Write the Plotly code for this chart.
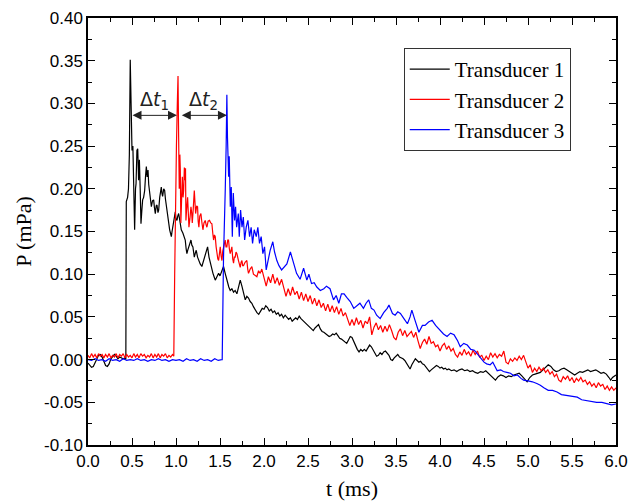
import plotly.graph_objects as go

# ---------------- data (t in ms, P in mPa) ----------------
black_data = [
    (0.00, -0.004), (0.02, -0.006), (0.04, -0.009), (0.06, -0.008), (0.08, -0.003),
    (0.10, 0.002), (0.12, 0.005), (0.14, 0.006), (0.16, 0.003), (0.18, -0.002),
    (0.20, -0.007), (0.22, -0.008), (0.24, -0.005), (0.26, 0.001), (0.28, 0.004),
    (0.30, 0.006), (0.32, 0.004), (0.34, 0.001), (0.36, 0.003), (0.38, 0.002),
    (0.40, 0.001), (0.42, 0.002), (0.43, 0.000),
    (0.435, 0.185), (0.45, 0.19), (0.46, 0.20), (0.47, 0.24), (0.48, 0.351),
    (0.49, 0.30), (0.50, 0.245), (0.51, 0.25), (0.52, 0.21), (0.53, 0.152),
    (0.54, 0.20), (0.546, 0.206), (0.556, 0.245), (0.565, 0.247), (0.575, 0.21),
    (0.584, 0.234), (0.593, 0.20), (0.602, 0.159), (0.612, 0.175), (0.621, 0.187),
    (0.632, 0.19), (0.644, 0.198), (0.654, 0.215), (0.663, 0.226), (0.672, 0.214),
    (0.682, 0.222), (0.69, 0.205), (0.697, 0.198), (0.71, 0.185), (0.72, 0.179),
    (0.733, 0.186), (0.746, 0.187), (0.755, 0.178), (0.765, 0.171), (0.775, 0.18),
    (0.784, 0.181), (0.795, 0.172), (0.803, 0.175), (0.815, 0.19), (0.833, 0.202),
    (0.84, 0.195), (0.848, 0.191), (0.86, 0.2), (0.871, 0.198), (0.88, 0.188),
    (0.89, 0.179), (0.9, 0.17), (0.909, 0.163), (0.918, 0.155), (0.928, 0.152),
    (0.937, 0.148), (0.947, 0.144), (0.955, 0.15), (0.962, 0.154), (0.973, 0.163),
    (0.984, 0.171), (0.992, 0.173), (1.0, 0.165), (1.011, 0.163), (1.02, 0.168),
    (1.03, 0.171), (1.04, 0.165), (1.049, 0.159), (1.06, 0.152), (1.079, 0.148),
    (1.09, 0.145), (1.105, 0.14), (1.115, 0.13), (1.124, 0.124), (1.133, 0.128),
    (1.143, 0.132), (1.155, 0.136), (1.17, 0.14), (1.18, 0.134), (1.192, 0.132),
    (1.2, 0.126), (1.208, 0.12), (1.22, 0.125), (1.23, 0.128), (1.245, 0.12),
    (1.257, 0.116), (1.275, 0.112), (1.294, 0.109), (1.31, 0.115), (1.332, 0.124),
    (1.345, 0.128), (1.359, 0.132), (1.375, 0.12), (1.389, 0.113), (1.405, 0.106),
    (1.42, 0.101), (1.433, 0.097), (1.446, 0.093), (1.465, 0.097), (1.484, 0.101),
    (1.5, 0.098), (1.522, 0.105), (1.54, 0.109), (1.559, 0.101), (1.572, 0.095),
    (1.585, 0.089), (1.6, 0.085), (1.616, 0.081), (1.635, 0.083), (1.654, 0.079),
    (1.672, 0.081), (1.692, 0.077), (1.71, 0.085), (1.73, 0.093), (1.749, 0.086),
    (1.768, 0.076), (1.787, 0.07), (1.805, 0.074), (1.824, 0.072), (1.843, 0.068),
    (1.862, 0.066), (1.88, 0.062),
    (1.90, 0.058), (1.92, 0.055), (1.94, 0.053), (1.96, 0.057), (1.98, 0.060),
    (2.00, 0.059), (2.02, 0.063), (2.04, 0.061), (2.06, 0.057), (2.08, 0.059),
    (2.10, 0.055), (2.12, 0.057), (2.14, 0.053), (2.16, 0.055), (2.18, 0.051),
    (2.20, 0.053), (2.22, 0.049), (2.24, 0.052), (2.26, 0.050), (2.28, 0.047),
    (2.30, 0.049), (2.32, 0.045), (2.34, 0.047), (2.36, 0.049), (2.38, 0.047),
    (2.40, 0.051), (2.42, 0.048), (2.44, 0.046), (2.46, 0.044), (2.48, 0.042),
    (2.50, 0.040), (2.52, 0.038), (2.54, 0.036), (2.56, 0.034), (2.58, 0.037),
    (2.60, 0.039), (2.62, 0.041), (2.64, 0.036), (2.66, 0.033), (2.68, 0.032),
    (2.70, 0.030), (2.72, 0.029), (2.74, 0.027), (2.76, 0.028), (2.78, 0.030),
    (2.80, 0.029), (2.82, 0.031), (2.84, 0.028), (2.86, 0.025), (2.88, 0.024),
    (2.90, 0.022), (2.92, 0.021), (2.94, 0.019), (2.96, 0.023), (2.98, 0.027),
    (3.00, 0.026), (3.02, 0.021), (3.04, 0.016), (3.06, 0.012), (3.08, 0.009),
    (3.10, 0.012), (3.12, 0.010), (3.14, 0.012), (3.16, 0.010), (3.18, 0.014),
    (3.20, 0.017), (3.22, 0.015), (3.24, 0.011), (3.26, 0.008), (3.28, 0.004),
    (3.30, 0.005), (3.32, 0.008), (3.34, 0.006), (3.36, 0.009), (3.38, 0.010),
    (3.40, 0.008), (3.42, 0.005), (3.44, 0.000), (3.46, -0.001), (3.48, 0.002),
    (3.50, 0.004), (3.52, 0.006), (3.54, 0.003), (3.56, 0.002), (3.58, 0.001),
    (3.60, -0.001), (3.62, -0.004), (3.64, -0.008), (3.66, -0.011), (3.68, -0.006),
    (3.70, -0.002), (3.72, 0.001), (3.74, -0.001), (3.76, -0.003), (3.78, -0.002),
    (3.80, -0.005), (3.82, -0.006), (3.84, -0.009), (3.86, -0.011), (3.88, -0.014),
    (3.90, -0.012), (3.92, -0.010), (3.94, -0.009), (3.96, -0.007), (3.98, -0.008),
    (4.00, -0.010), (4.02, -0.009), (4.04, -0.011), (4.06, -0.010), (4.08, -0.012),
    (4.10, -0.011), (4.13, -0.013), (4.16, -0.012), (4.19, -0.014), (4.22, -0.012),
    (4.25, -0.011), (4.28, -0.013), (4.31, -0.012), (4.34, -0.014), (4.37, -0.013),
    (4.40, -0.015), (4.43, -0.016), (4.46, -0.014), (4.49, -0.015), (4.52, -0.013),
    (4.55, -0.016), (4.58, -0.020), (4.61, -0.022), (4.63, -0.024), (4.66, -0.020),
    (4.69, -0.018), (4.72, -0.019), (4.75, -0.021), (4.78, -0.019), (4.81, -0.020),
    (4.84, -0.018), (4.87, -0.017), (4.90, -0.016), (4.93, -0.019), (4.96, -0.022),
    (4.99, -0.026), (5.02, -0.021), (5.05, -0.018), (5.08, -0.017), (5.11, -0.016),
    (5.14, -0.015), (5.17, -0.012), (5.20, -0.009), (5.23, -0.006), (5.26, -0.008),
    (5.29, -0.012), (5.32, -0.014), (5.35, -0.013), (5.38, -0.011), (5.41, -0.010),
    (5.44, -0.012), (5.47, -0.014), (5.50, -0.016), (5.53, -0.018), (5.56, -0.016),
    (5.59, -0.014), (5.62, -0.015), (5.65, -0.013), (5.68, -0.012), (5.71, -0.014),
    (5.74, -0.013), (5.77, -0.012), (5.80, -0.014), (5.83, -0.016), (5.86, -0.015),
    (5.89, -0.017), (5.92, -0.021), (5.94, -0.024), (5.96, -0.021), (5.98, -0.019),
    (6.00, -0.018),
]

red_data = [
    (0.00, 0.005), (0.02, 0.002), (0.04, 0.007), (0.06, 0.003), (0.08, 0.006),
    (0.10, 0.002), (0.12, 0.007), (0.14, 0.004), (0.16, 0.006), (0.18, 0.002),
    (0.20, 0.006), (0.22, 0.003), (0.24, 0.007), (0.26, 0.002), (0.28, 0.005),
    (0.30, 0.003), (0.32, 0.007), (0.34, 0.002), (0.36, 0.006), (0.38, 0.004),
    (0.40, 0.007), (0.42, 0.002), (0.44, 0.006), (0.46, 0.003), (0.48, 0.005),
    (0.50, 0.002), (0.52, 0.007), (0.54, 0.003), (0.56, 0.006), (0.58, 0.002),
    (0.60, 0.007), (0.62, 0.004), (0.64, 0.006), (0.66, 0.002), (0.68, 0.005),
    (0.70, 0.003), (0.72, 0.007), (0.74, 0.002), (0.76, 0.006), (0.78, 0.003),
    (0.80, 0.007), (0.82, 0.002), (0.84, 0.006), (0.86, 0.004), (0.88, 0.007),
    (0.90, 0.002), (0.92, 0.005), (0.94, 0.003), (0.96, 0.006), (0.975, 0.004),
    (0.985, 0.10), (0.995, 0.206), (1.005, 0.25), (1.015, 0.30), (1.023, 0.332),
    (1.03, 0.26), (1.037, 0.20), (1.044, 0.24), (1.049, 0.222), (1.055, 0.16),
    (1.06, 0.179), (1.066, 0.21), (1.072, 0.214), (1.08, 0.19), (1.087, 0.198),
    (1.095, 0.225), (1.102, 0.21), (1.108, 0.224), (1.113, 0.163), (1.12, 0.175),
    (1.132, 0.19), (1.14, 0.17), (1.147, 0.155), (1.158, 0.165), (1.17, 0.179),
    (1.178, 0.172), (1.185, 0.16), (1.195, 0.175), (1.208, 0.198), (1.215, 0.185),
    (1.223, 0.171), (1.235, 0.18), (1.245, 0.179), (1.252, 0.162), (1.26, 0.155),
    (1.27, 0.168), (1.283, 0.171), (1.295, 0.16), (1.306, 0.152), (1.318, 0.16),
    (1.332, 0.163), (1.342, 0.158), (1.351, 0.155), (1.365, 0.162), (1.381, 0.163),
    (1.395, 0.16), (1.408, 0.159), (1.418, 0.148), (1.427, 0.14), (1.437, 0.146),
    (1.446, 0.144), (1.456, 0.132), (1.465, 0.124), (1.475, 0.118), (1.484, 0.116),
    (1.494, 0.125), (1.503, 0.132), (1.512, 0.122), (1.522, 0.116), (1.531, 0.127),
    (1.54, 0.132), (1.55, 0.136), (1.559, 0.14), (1.568, 0.132), (1.578, 0.132),
    (1.588, 0.14), (1.597, 0.14), (1.606, 0.13), (1.616, 0.124), (1.626, 0.128),
    (1.635, 0.132), (1.645, 0.118), (1.654, 0.113), (1.663, 0.12), (1.673, 0.12),
    (1.682, 0.126), (1.692, 0.124), (1.71, 0.116), (1.73, 0.108), (1.74, 0.114),
    (1.749, 0.116), (1.758, 0.11), (1.767, 0.11), (1.785, 0.114), (1.805, 0.116),
    (1.815, 0.106), (1.824, 0.101), (1.843, 0.106), (1.862, 0.109), (1.88, 0.1),
    (1.9, 0.098), (1.919, 0.097), (1.938, 0.104), (1.957, 0.101), (1.975, 0.106),
    (2.000, 0.096), (2.025, 0.086), (2.050, 0.097), (2.075, 0.090), (2.100, 0.100),
    (2.125, 0.089), (2.150, 0.096), (2.175, 0.087), (2.200, 0.094), (2.225, 0.083),
    (2.250, 0.074), (2.275, 0.083), (2.300, 0.075), (2.325, 0.085), (2.350, 0.076),
    (2.375, 0.080), (2.400, 0.071), (2.425, 0.079), (2.450, 0.069), (2.475, 0.077),
    (2.500, 0.068), (2.525, 0.075), (2.550, 0.065), (2.575, 0.072), (2.600, 0.063),
    (2.625, 0.070), (2.650, 0.061), (2.675, 0.066), (2.700, 0.057), (2.725, 0.065),
    (2.750, 0.056), (2.775, 0.063), (2.800, 0.055), (2.825, 0.062), (2.850, 0.053),
    (2.875, 0.060), (2.900, 0.051), (2.925, 0.055), (2.950, 0.046), (2.975, 0.040),
    (3.000, 0.047), (3.025, 0.040), (3.050, 0.049), (3.075, 0.041), (3.100, 0.046),
    (3.125, 0.037), (3.150, 0.045), (3.175, 0.042), (3.200, 0.050), (3.225, 0.029),
    (3.250, 0.038), (3.275, 0.043), (3.300, 0.035), (3.325, 0.040), (3.350, 0.032),
    (3.375, 0.039), (3.400, 0.033), (3.425, 0.041), (3.450, 0.034), (3.475, 0.026),
    (3.500, 0.023), (3.525, 0.032), (3.550, 0.036), (3.575, 0.028), (3.600, 0.034),
    (3.625, 0.027), (3.650, 0.030), (3.675, 0.033), (3.700, 0.026), (3.725, 0.032),
    (3.750, 0.022), (3.775, 0.013), (3.800, 0.020), (3.825, 0.024), (3.850, 0.018),
    (3.875, 0.027), (3.900, 0.019), (3.925, 0.021), (3.950, 0.015), (3.975, 0.017),
    (4.000, 0.010), (4.025, 0.016), (4.050, 0.019), (4.075, 0.012), (4.100, 0.016),
    (4.125, 0.010), (4.150, 0.013), (4.175, 0.006), (4.200, 0.003), (4.225, 0.009),
    (4.250, 0.005), (4.275, 0.012), (4.300, 0.006), (4.325, 0.009), (4.350, 0.004),
    (4.375, 0.011), (4.400, 0.006), (4.425, 0.010), (4.450, 0.003), (4.475, 0.005),
    (4.500, -0.001), (4.525, 0.004), (4.550, 0.000), (4.575, 0.008), (4.600, 0.003),
    (4.625, 0.007), (4.650, 0.002), (4.675, 0.006), (4.700, 0.004), (4.725, 0.010),
    (4.750, -0.003), (4.775, -0.005), (4.800, 0.001), (4.825, -0.002), (4.850, 0.002),
    (4.875, -0.001), (4.900, 0.004), (4.925, 0.000), (4.950, 0.005), (4.975, -0.004),
    (5.000, -0.010), (5.025, -0.006), (5.050, -0.015), (5.075, -0.010), (5.100, -0.014),
    (5.125, -0.009), (5.150, -0.013), (5.175, -0.010), (5.200, -0.015), (5.225, -0.012),
    (5.250, -0.017), (5.275, -0.014), (5.300, -0.020), (5.325, -0.017), (5.350, -0.024),
    (5.375, -0.026), (5.400, -0.020), (5.425, -0.023), (5.450, -0.019), (5.475, -0.025),
    (5.500, -0.021), (5.525, -0.027), (5.550, -0.022), (5.575, -0.025), (5.600, -0.021),
    (5.625, -0.026), (5.650, -0.024), (5.675, -0.029), (5.700, -0.026), (5.725, -0.031),
    (5.750, -0.028), (5.775, -0.033), (5.800, -0.027), (5.825, -0.031), (5.850, -0.029),
    (5.875, -0.035), (5.900, -0.031), (5.925, -0.036), (5.950, -0.032), (5.975, -0.036),
    (6.000, -0.033),
]

blue_data = [
    (0.00, 0.000), (0.04, -0.001), (0.08, 0.001), (0.12, -0.001), (0.16, 0.000),
    (0.20, -0.002), (0.24, 0.001), (0.28, -0.001), (0.32, 0.000), (0.36, -0.002),
    (0.40, 0.001), (0.44, -0.001), (0.48, 0.000), (0.52, -0.001), (0.56, 0.001),
    (0.60, -0.001), (0.64, 0.000), (0.68, -0.002), (0.72, 0.000), (0.76, -0.001),
    (0.80, 0.001), (0.84, -0.001), (0.88, 0.000), (0.92, -0.002), (0.96, 0.000),
    (1.00, -0.001), (1.04, 0.000), (1.08, -0.002), (1.12, 0.001), (1.16, -0.001),
    (1.20, 0.000), (1.24, -0.002), (1.28, 0.001), (1.32, -0.001), (1.36, 0.000),
    (1.40, -0.002), (1.44, 0.001), (1.48, -0.001), (1.52, 0.000),
    (1.525, 0.0), (1.54, 0.12), (1.55, 0.185), (1.56, 0.2), (1.57, 0.25),
    (1.578, 0.31), (1.585, 0.26), (1.598, 0.214), (1.605, 0.238), (1.617, 0.179),
    (1.628, 0.202), (1.64, 0.144), (1.651, 0.195), (1.666, 0.163), (1.677, 0.179),
    (1.689, 0.155), (1.708, 0.171), (1.719, 0.144), (1.734, 0.175), (1.75, 0.155),
    (1.765, 0.167), (1.78, 0.14), (1.798, 0.155), (1.817, 0.163), (1.836, 0.144),
    (1.854, 0.155), (1.87, 0.136), (1.889, 0.152), (1.912, 0.144), (1.93, 0.155),
    (1.949, 0.136), (1.968, 0.144), (1.987, 0.124), (2.006, 0.132), (2.025, 0.105),
    (2.05, 0.12), (2.07, 0.128), (2.1, 0.138), (2.12, 0.126), (2.146, 0.116),
    (2.17, 0.11), (2.2, 0.105), (2.23, 0.108), (2.26, 0.112), (2.3, 0.126),
    (2.335, 0.112), (2.37, 0.101), (2.41, 0.094), (2.45, 0.107), (2.487, 0.093),
    (2.51, 0.1), (2.54, 0.089), (2.57, 0.09), (2.6, 0.085), (2.64, 0.081),
    (2.68, 0.083), (2.71, 0.086), (2.75, 0.083), (2.79, 0.07), (2.82, 0.075),
    (2.85, 0.066), (2.88, 0.077), (2.91, 0.077), (2.94, 0.073), (2.98, 0.068),
    (3.02, 0.06), (3.06, 0.064), (3.09, 0.066), (3.13, 0.06), (3.16, 0.066),
    (3.19, 0.07), (3.22, 0.06), (3.25, 0.058), (3.28, 0.052), (3.32, 0.048),
    (3.36, 0.055), (3.4, 0.06), (3.42, 0.064), (3.46, 0.054), (3.49, 0.052),
    (3.52, 0.056), (3.55, 0.054), (3.59, 0.048), (3.63, 0.042), (3.66, 0.05),
    (3.68, 0.058), (3.71, 0.048), (3.74, 0.038), (3.76, 0.032), (3.8, 0.04),
    (3.83, 0.04), (3.87, 0.044), (3.91, 0.046), (3.95, 0.04), (4.0, 0.034),
    (4.04, 0.03), (4.08, 0.027), (4.12, 0.031), (4.16, 0.029), (4.2, 0.022),
    (4.23, 0.015), (4.27, 0.019), (4.31, 0.017), (4.35, 0.012), (4.39, 0.011),
    (4.43, 0.006), (4.46, 0.001), (4.5, -0.003), (4.53, -0.005), (4.57, -0.006),
    (4.6, -0.003), (4.63, -0.01), (4.65, -0.013), (4.69, -0.012), (4.72, -0.014),
    (4.76, -0.015), (4.8, -0.016), (4.84, -0.019), (4.88, -0.018), (4.92, -0.022),
    (4.95, -0.024), (5.0, -0.025), (5.05, -0.026), (5.1, -0.028), (5.14, -0.03),
    (5.18, -0.033), (5.23, -0.036), (5.28, -0.036), (5.33, -0.038), (5.38, -0.041),
    (5.44, -0.042), (5.5, -0.043), (5.56, -0.044), (5.61, -0.047), (5.67, -0.048),
    (5.72, -0.049), (5.78, -0.05), (5.84, -0.05), (5.9, -0.052), (5.95, -0.053),
    (6.0, -0.052),
]

series_names = ["Transducer 1", "Transducer 2", "Transducer 3"]
series_colors = ["#000000", "#ff0000", "#0000ff"]

x_tick_vals = [0.0, 0.5, 1.0, 1.5, 2.0, 2.5, 3.0, 3.5, 4.0, 4.5, 5.0, 5.5, 6.0]
x_tick_text = ["0.0", "0.5", "1.0", "1.5", "2.0", "2.5", "3.0", "3.5", "4.0", "4.5", "5.0", "5.5", "6.0"]
y_tick_vals = [-0.10, -0.05, 0.00, 0.05, 0.10, 0.15, 0.20, 0.25, 0.30, 0.35, 0.40]
y_tick_text = ["-0.10", "-0.05", "0.00", "0.05", "0.10", "0.15", "0.20", "0.25", "0.30", "0.35", "0.40"]

# time-delay markers (ms) between peaks and the height (mPa) of the arrows
dt_arrows = [(0.489, 1.011, "Δ<i>t</i><sub>1</sub>"), (1.049, 1.579, "Δ<i>t</i><sub>2</sub>")]
dt_arrow_level = 0.286
dt_label_level = 0.303

SANS = "Liberation Sans"
SERIF = "Liberation Serif"

# ---------------- figure ----------------
fig = go.Figure()
for data, name, color in zip([black_data, red_data, blue_data], series_names, series_colors):
    t = [d[0] for d in data]
    p = [d[1] for d in data]
    fig.add_trace(go.Scatter(x=t, y=p, mode="lines", name=name,
                             line=dict(color=color, width=1.2)))

for x0, x1, label in dt_arrows:
    fig.add_annotation(x=x1, y=dt_arrow_level, ax=x0, ay=dt_arrow_level,
                       xref="x", yref="y", axref="x", ayref="y",
                       showarrow=True, arrowhead=2, arrowside="end+start",
                       arrowsize=1.8, arrowwidth=1, arrowcolor="#222222", text="")
    fig.add_annotation(x=(x0 + x1) / 2, y=dt_label_level, xref="x", yref="y",
                       text=label, showarrow=False,
                       font=dict(family="DejaVu Sans", size=19, color="#222222"))

axis_common = dict(
    showline=True, linecolor="black", linewidth=1.5, mirror="ticks",
    ticks="inside", ticklen=7, tickwidth=1.2, tickcolor="black",
    showgrid=False, zeroline=False, automargin=False,
    tickfont=dict(family=SANS, size=17, color="black"),
)

fig.update_xaxes(range=[0, 6], tickmode="array", tickvals=x_tick_vals, ticktext=x_tick_text,
                 minor=dict(ticks="inside", ticklen=4, dtick=0.25, tick0=0, tickcolor="black", tickwidth=1.2),
                 title=dict(text="t (ms)", standoff=12,
                            font=dict(family=SERIF, size=22, color="black")),
                 **axis_common)
fig.update_yaxes(range=[-0.10, 0.40], tickmode="array", tickvals=y_tick_vals, ticktext=y_tick_text,
                 minor=dict(ticks="inside", ticklen=4, dtick=0.025, tick0=0, tickcolor="black", tickwidth=1.2),
                 title=dict(text="P (mPa)", standoff=6,
                            font=dict(family=SERIF, size=22, color="black")),
                 **axis_common)

fig.update_layout(
    width=630, height=501,
    margin=dict(l=88, r=14, t=18, b=56),
    paper_bgcolor="white", plot_bgcolor="white",
    showlegend=True,
    legend=dict(x=0.598, y=0.93, xanchor="left", yanchor="top",
                bgcolor="white", bordercolor="#333333", borderwidth=1,
                font=dict(family=SERIF, size=21, color="black"),
                tracegroupgap=0, itemwidth=40),
)

fig.write_html("out.html")
